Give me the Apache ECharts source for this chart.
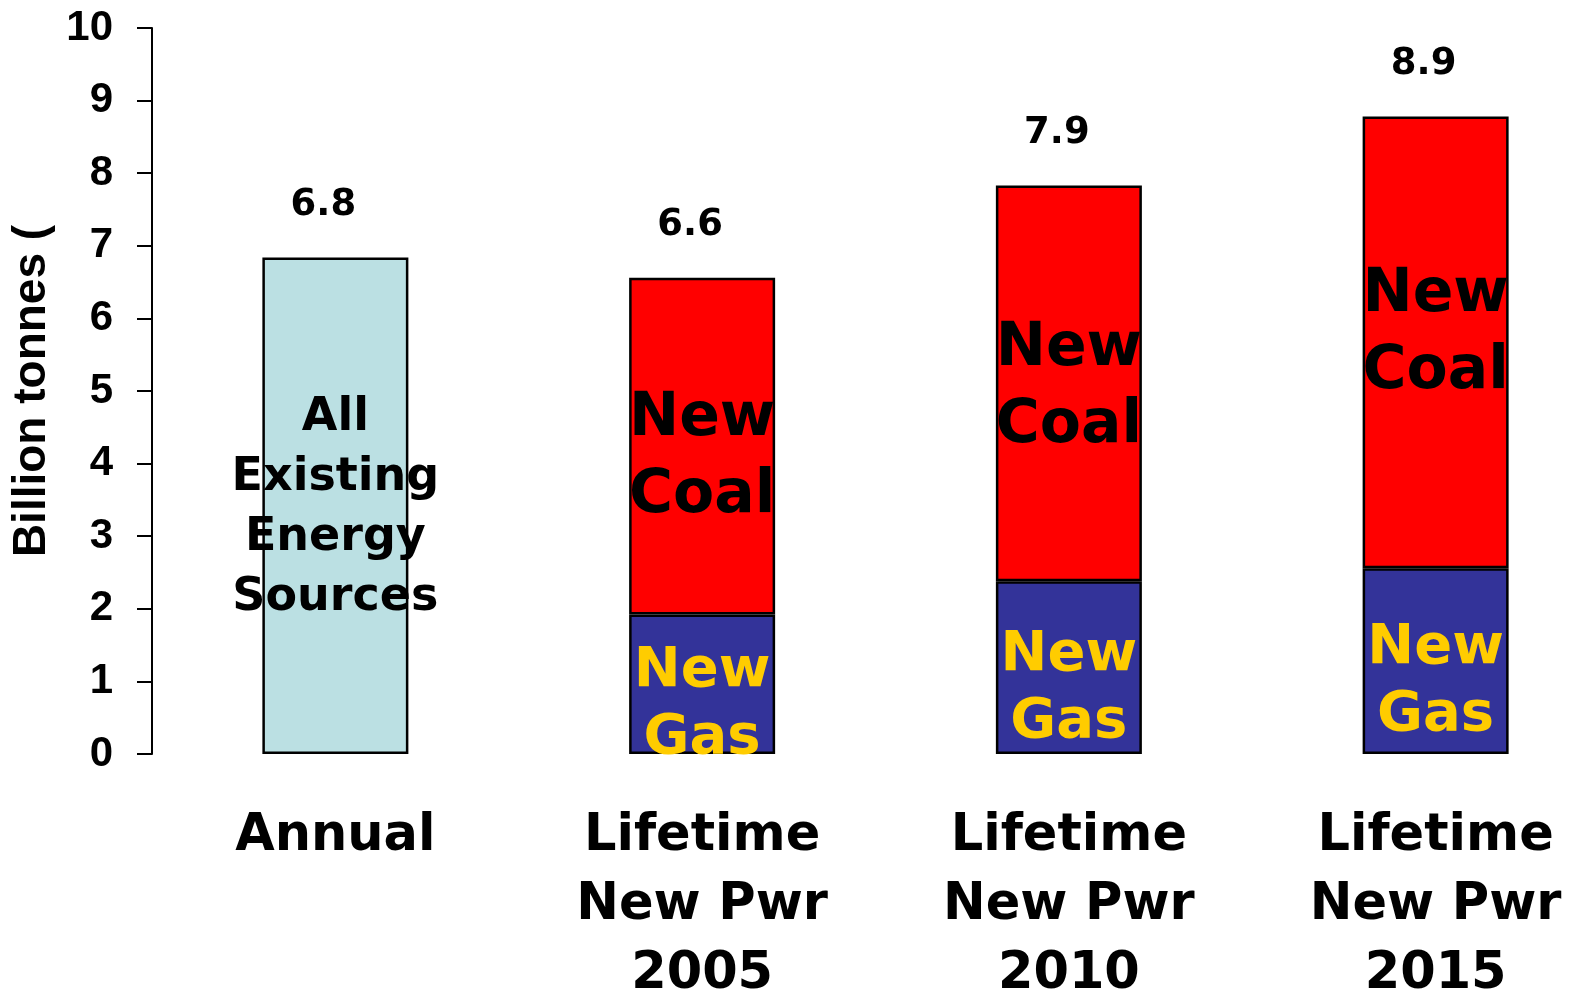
<!DOCTYPE html>
<html>
<head>
<meta charset="utf-8">
<script src="https://cdn.jsdelivr.net/npm/echarts@6/dist/echarts.min.js"></script>
<style>
  html, body { margin: 0; padding: 0; background: #fff; }
  #main { width: 1573px; height: 998px; }
</style>
</head>
<body>
<div id="main"></div>
<script>
// 数据
var categories = ['Annual', 'Lifetime\nNew Pwr\n2005', 'Lifetime\nNew Pwr\n2010', 'Lifetime\nNew Pwr\n2015'];
var existing = [6.84, '-', '-', '-'];
var newGas = ['-', 1.92, 2.38, 2.56];
var newCoal = ['-', 4.64, 5.45, 6.22];
var totals = ['6.8', '6.6', '7.9', '8.9'];
var yTicks = [0, 1, 2, 3, 4, 5, 6, 7, 8, 9, 10];

// New Coal 文字在各柱里的上下微调
var coalLabelShift = [0, 12, 5, -8];

// 每根柱子的顶部，用来放总数标签
var tops = categories.map(function (c, i) {
    var s = 0;
    [existing, newGas, newCoal].forEach(function (arr) {
        if (arr[i] !== '-') s += arr[i];
    });
    return s;
});

var coalData = newCoal.map(function (v, i) {
    return { value: v, label: { offset: [0, coalLabelShift[i]] } };
});

var myChart = echarts.init(document.getElementById('main'));

var border = { borderColor: '#000', borderWidth: 2.5 };

var option = {
    animation: false,
    grid: {
        left: 152, top: 28, bottom: 244, right: -46,
        containLabel: false,
        outerBoundsMode: 'none'
    },
    xAxis: {
        type: 'category',
        data: categories,
        axisLine: { show: false },
        axisTick: { show: false },
        axisLabel: {
            interval: 0,
            margin: 48,
            color: '#000',
            fontFamily: 'DejaVu Sans',
            fontWeight: 'bold',
            fontSize: 51,
            lineHeight: 69
        }
    },
    yAxis: {
        type: 'value',
        min: yTicks[0],
        max: yTicks[yTicks.length - 1],
        interval: 1,
        name: 'Billion tonnes (',
        nameLocation: 'middle',
        nameGap: 96,
        nameTextStyle: {
            color: '#000',
            fontFamily: 'Liberation Sans',
            fontWeight: 'bold',
            fontSize: 46
        },
        splitLine: { show: false },
        axisLine: { show: true, lineStyle: { color: '#000', width: 2 } },
        axisTick: { show: true, length: 15, lineStyle: { color: '#000', width: 2 } },
        axisLabel: {
            margin: 39,
            color: '#000',
            fontFamily: 'Liberation Sans',
            fontWeight: 'bold',
            fontSize: 42
        }
    },
    series: [{
        name: 'All Existing Energy Sources',
        type: 'bar',
        stack: 'a',
        barWidth: 146,
        barGap: '-100%',
        data: existing,
        itemStyle: Object.assign({ color: '#BBE0E3' }, border),
        label: {
            show: true,
            position: 'inside',
            offset: [0, 2],
            formatter: 'All\nExisting\nEnergy\nSources',
            color: '#000',
            fontFamily: 'DejaVu Sans',
            fontWeight: 'bold',
            fontSize: 46,
            lineHeight: 60
        }
    }, {
        name: 'New Gas',
        type: 'bar',
        stack: 'a',
        barWidth: 146,
        data: newGas,
        itemStyle: Object.assign({ color: '#333399' }, border),
        label: {
            show: true,
            position: 'inside',
            offset: [0, 21],
            formatter: 'New\nGas',
            color: '#FFCC00',
            fontFamily: 'DejaVu Sans',
            fontWeight: 'bold',
            fontSize: 56,
            lineHeight: 67
        }
    }, {
        name: 'New Coal',
        type: 'bar',
        stack: 'a',
        barWidth: 146,
        data: coalData,
        itemStyle: Object.assign({ color: '#FF0000' }, border),
        label: {
            show: true,
            position: 'inside',
            formatter: 'New\nCoal',
            color: '#000',
            fontFamily: 'DejaVu Sans',
            fontWeight: 'bold',
            fontSize: 60,
            lineHeight: 77
        }
    }, {
        // 透明柱子，只用来显示总数
        name: 'total',
        type: 'bar',
        barWidth: 146,
        barGap: '-100%',
        silent: true,
        data: tops,
        itemStyle: { color: 'rgba(0,0,0,0)' },
        label: {
            show: true,
            position: 'top',
            distance: 34,
            offset: [-12, 0],
            formatter: function (p) { return totals[p.dataIndex]; },
            color: '#000',
            fontFamily: 'DejaVu Sans',
            fontWeight: 'bold',
            fontSize: 37
        }
    }]
};

myChart.setOption(option);
</script>
</body>
</html>
